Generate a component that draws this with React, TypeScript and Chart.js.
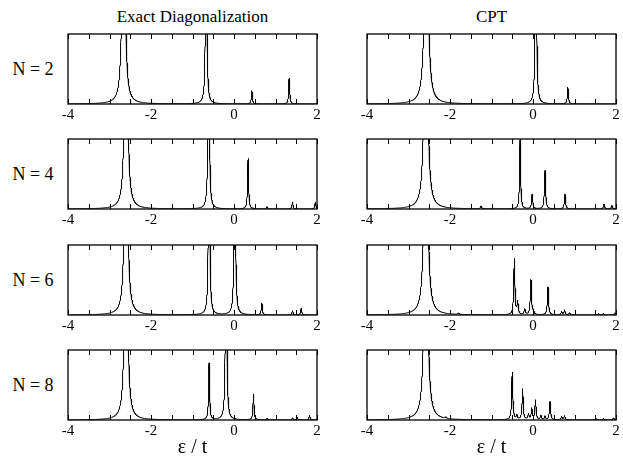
import React, { useEffect, useRef } from "react";
import { Chart, registerables } from "chart.js";

Chart.register(...registerables);

// ---------- data ----------
const X_MIN = -4;
const X_MAX = 2;
const X_STEP = 0.0025;
const TICK_STEP = 0.5;
const TICK_LABELS = [-4, -2, 0, 2];
const COLUMN_TITLES = ["Exact Diagonalization", "CPT"];
const ROW_LABELS = ["N = 2", "N = 4", "N = 6", "N = 8"];
const AXIS_TITLE = "ε / t";

// peak positions (ε/t), heights (in panel units, >1 means clipped) and half-widths
const ED2_POS = [-2.66, -0.67, 0.43, 1.33];
const ED2_H = [5, 4, 0.19, 0.37];
const ED2_W = [0.03, 0.014, 0.014, 0.014];

const CPT2_POS = [-2.57, 0.07, 0.84];
const CPT2_H = [5, 4, 0.24];
const CPT2_W = [0.035, 0.014, 0.014];

const ED4_POS = [-2.6, -0.61, 0.34, 0.8, 1.41, 1.96];
const ED4_H = [5, 4, 0.72, 0.03, 0.1, 0.1];
const ED4_W = [0.03, 0.014, 0.014, 0.014, 0.014, 0.014];

const CPT4_POS = [-2.58, -1.25, -0.31, -0.02, 0.29, 0.77, 1.71, 1.9];
const CPT4_H = [5, 0.04, 1.02, 0.21, 0.55, 0.21, 0.07, 0.05];
const CPT4_W = [0.035, 0.016, 0.014, 0.016, 0.016, 0.016, 0.016, 0.016];

const ED6_POS = [-2.6, -0.6, 0.02, 0.67, 1.41, 1.62];
const ED6_H = [5, 4, 4, 0.17, 0.06, 0.1];
const ED6_W = [0.03, 0.014, 0.014, 0.014, 0.014, 0.014];

const CPT6_POS = [-2.58, -1.79, -0.97, -0.45, -0.37, -0.2, -0.05, 0.01, 0.36, 0.69, 0.76, 0.88, 1.58, 1.7, 1.98];
const CPT6_H = [5, 0.02, 0.01, 0.8, 0.18, 0.08, 0.5, 0.05, 0.4, 0.05, 0.07, 0.03, 0.02, 0.02, 0.03];
const CPT6_W = [0.035, 0.016, 0.016, 0.016, 0.016, 0.016, 0.016, 0.016, 0.016, 0.016, 0.016, 0.016, 0.016, 0.016, 0.016];

const ED8_POS = [-2.6, -0.6, -0.19, 0.47, 0.8, 1.41, 1.52, 1.82];
const ED8_H = [5, 0.81, 4, 0.37, 0.02, 0.03, 0.04, 0.07];
const ED8_W = [0.03, 0.014, 0.014, 0.014, 0.014, 0.014, 0.014, 0.014];

const CPT8_POS = [-2.58, -2.1, -0.5, -0.39, -0.25, -0.11, -0.03, 0.06, 0.19, 0.29, 0.41, 0.69, 0.76, 1.53, 1.7, 1.94];
const CPT8_H = [5, 0.02, 0.68, 0.06, 0.44, 0.08, 0.16, 0.28, 0.06, 0.05, 0.26, 0.05, 0.06, 0.02, 0.02, 0.03];
const CPT8_W = [0.035, 0.016, 0.016, 0.016, 0.016, 0.016, 0.016, 0.016, 0.016, 0.016, 0.016, 0.016, 0.016, 0.016, 0.016, 0.016];

const PANELS = [
  [
    { pos: ED2_POS, h: ED2_H, w: ED2_W },
    { pos: CPT2_POS, h: CPT2_H, w: CPT2_W },
  ],
  [
    { pos: ED4_POS, h: ED4_H, w: ED4_W },
    { pos: CPT4_POS, h: CPT4_H, w: CPT4_W },
  ],
  [
    { pos: ED6_POS, h: ED6_H, w: ED6_W },
    { pos: CPT6_POS, h: CPT6_H, w: CPT6_W },
  ],
  [
    { pos: ED8_POS, h: ED8_H, w: ED8_W },
    { pos: CPT8_POS, h: CPT8_H, w: CPT8_W },
  ],
];

// ---------- layout ----------
const FONT = "'Liberation Serif', 'DejaVu Serif', serif";
const COL_LEFT = [68, 367];
const FRAME_W = 249;
const ROW_TOP = [34, 139, 245, 350];
const FRAME_H = 70;
const PAD_X = 14;
const PAD_TOP = 2;
const AXIS_H = 22;

function spectrum(pos: number[], h: number[], w: number[]) {
  const pts: { x: number; y: number }[] = [];
  const n = Math.round((X_MAX - X_MIN) / X_STEP);
  for (let i = 0; i <= n; i++) {
    const x = X_MIN + i * X_STEP;
    let y = 0;
    for (let k = 0; k < pos.length; k++) {
      const d = x - pos[k];
      y += (h[k] * w[k] * w[k]) / (d * d + w[k] * w[k]);
    }
    pts.push({ x, y });
  }
  return pts;
}

const framePlugin = {
  id: "frameTicks",
  afterDraw(chart: any) {
    const { ctx, chartArea: a } = chart;
    const xs = chart.scales.x;
    ctx.save();
    ctx.strokeStyle = "#000";
    ctx.lineWidth = 1;
    xs.ticks.forEach((t: any) => {
      const px = Math.round(xs.getPixelForValue(t.value)) + 0.5;
      ctx.beginPath();
      ctx.moveTo(px, a.top);
      ctx.lineTo(px, a.top + 5);
      ctx.moveTo(px, a.bottom);
      ctx.lineTo(px, a.bottom - 5);
      ctx.stroke();
    });
    ctx.lineWidth = 1.3;
    ctx.strokeRect(a.left, a.top, a.right - a.left, a.bottom - a.top);
    ctx.restore();
  },
};

function Panel({ row, col }: { row: number; col: number }) {
  const ref = useRef<HTMLCanvasElement>(null);
  useEffect(() => {
    const p = PANELS[row][col];
    const chart = new Chart(ref.current as HTMLCanvasElement, {
      type: "line",
      data: {
        datasets: [
          {
            data: spectrum(p.pos, p.h, p.w),
            borderColor: "#000",
            borderWidth: 1,
            pointRadius: 0,
            tension: 0,
            fill: false,
          },
        ],
      },
      options: {
        animation: false,
        responsive: false,
        parsing: false,
        normalized: true,
        events: [],
        layout: { padding: { left: PAD_X, right: PAD_X, top: PAD_TOP, bottom: 0 } },
        plugins: { legend: { display: false }, tooltip: { enabled: false }, title: { display: false } },
        scales: {
          x: {
            type: "linear",
            min: X_MIN,
            max: X_MAX,
            afterFit: (s: any) => {
              s.height = AXIS_H;
            },
            grid: { display: false, drawTicks: false },
            border: { display: false },
            ticks: {
              stepSize: TICK_STEP,
              autoSkip: false,
              maxRotation: 0,
              padding: 2,
              color: "#000",
              font: { family: FONT, size: 15 },
              callback: (v: any) => (TICK_LABELS.includes(Number(v)) ? String(v) : ""),
            },
          },
          y: { type: "linear", min: 0, max: 1, display: false },
        },
      },
      plugins: [framePlugin],
    } as any);
    return () => chart.destroy();
  }, [row, col]);
  const cw = FRAME_W + 2 * PAD_X;
  const ch = FRAME_H + PAD_TOP + AXIS_H;
  return (
    <canvas
      ref={ref}
      width={cw}
      height={ch}
      style={{ position: "absolute", left: COL_LEFT[col] - PAD_X, top: ROW_TOP[row] - PAD_TOP, width: cw, height: ch }}
    />
  );
}

const textStyle = (left: number, top: number, w: number, h: number, size: number): React.CSSProperties => ({
  position: "absolute",
  left,
  top,
  width: w,
  height: h,
  lineHeight: `${h}px`,
  textAlign: "center",
  fontFamily: FONT,
  fontSize: size,
  color: "#000",
  whiteSpace: "nowrap",
});

export default function App() {
  return (
    <div style={{ position: "fixed", left: 0, top: 0, width: 623, height: 462, background: "#fff" }}>
      {COLUMN_TITLES.map((t, c) => (
        <div key={t} style={textStyle(COL_LEFT[c], 6, FRAME_W, 22, 17)}>
          {t}
        </div>
      ))}
      {ROW_LABELS.map((t, r) => (
        <div key={t} style={textStyle(4, ROW_TOP[r] + FRAME_H / 2 - 11, 58, 22, 18)}>
          {t}
        </div>
      ))}
      {PANELS.map((rowP, r) => rowP.map((_, c) => <Panel key={`${r}-${c}`} row={r} col={c} />))}
      {COL_LEFT.map((l, c) => (
        <div key={`ax${c}`} style={textStyle(l, 434, FRAME_W, 24, 20)}>
          {AXIS_TITLE}
        </div>
      ))}
    </div>
  );
}
